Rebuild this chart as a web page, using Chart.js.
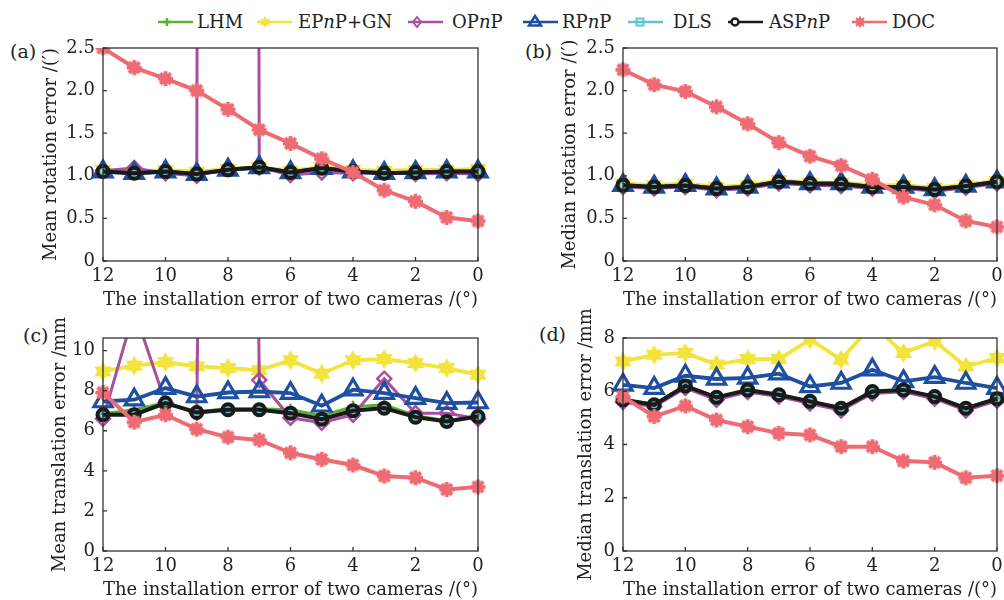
<!DOCTYPE html>
<html>
<head>
<meta charset="utf-8">
<script src="https://cdn.jsdelivr.net/npm/chart.js@4.4.1/dist/chart.umd.min.js"></script>
<style>
  body { margin: 0; width: 1004px; height: 600px; position: relative; overflow: hidden; background: #fff;
         font-family: "DejaVu Serif", "Liberation Serif", serif; color: #222; }
  canvas { position: absolute; }
  .lbl { position: absolute; font-size: 19px; line-height: 22px; }
  .legtxt { position: absolute; top: 10px; font-size: 18px; line-height: 24px; white-space: nowrap; }
  .legsym { position: absolute; top: 14px; }
</style>
</head>
<body>
<div id="legend"></div>
<div class="lbl" style="left:10px;top:40px">(a)</div>
<div class="lbl" style="left:525px;top:40px">(b)</div>
<div class="lbl" style="left:23px;top:324px">(c)</div>
<div class="lbl" style="left:539px;top:323px">(d)</div>
<canvas id="chartA"></canvas>
<canvas id="chartB"></canvas>
<canvas id="chartC"></canvas>
<canvas id="chartD"></canvas>
<script>
// x axis: installation error of two cameras (deg), plotted 12 -> 0
const xVals = [12, 11, 10, 9, 8, 7, 6, 5, 4, 3, 2, 1, 0];
const methods = ['LHM', 'EPnP', 'OPnP', 'RPnP', 'DLS', 'ASPnP', 'DOC'];

// (a) mean rotation error /(')
const lhmMeanRot   = [1.06, 1.04, 1.06, 1.03, 1.07, 1.09, 1.04, 1.08, 1.06, 1.04, 1.05, 1.06, 1.06];
const epnpMeanRot  = [1.07, 1.05, 1.07, 1.05, 1.08, 1.10, 1.06, 1.10, 1.07, 1.06, 1.07, 1.07, 1.08];
const opnpMeanRot  = [1.06, 1.09, 1.03, 1.00, 150, 1.10, 1.01, 1.04, 1.03, 1.04, 1.02, 1.03, 1.02];
const rpnpMeanRot  = [1.05, 1.03, 1.05, 1.02, 1.07, 1.10, 1.04, 1.09, 1.05, 1.03, 1.04, 1.05, 1.05];
const dlsMeanRot   = [1.05, 1.03, 1.05, 1.02, 1.07, 1.09, 1.04, 1.08, 1.05, 1.03, 1.04, 1.05, 1.05];
const aspnpMeanRot = [1.05, 1.03, 1.05, 1.02, 1.07, 1.10, 1.04, 1.09, 1.05, 1.03, 1.04, 1.05, 1.05];
const docMeanRot   = [2.50, 2.27, 2.14, 2.00, 1.78, 1.54, 1.38, 1.20, 1.04, 0.83, 0.70, 0.51, 0.47];

// (b) median rotation error /(')
const lhmMedRot   = [0.89, 0.87, 0.89, 0.85, 0.87, 0.93, 0.91, 0.90, 0.87, 0.87, 0.84, 0.88, 0.93];
const epnpMedRot  = [0.91, 0.89, 0.91, 0.87, 0.89, 0.95, 0.92, 0.92, 0.89, 0.89, 0.86, 0.90, 0.94];
const opnpMedRot  = [0.87, 0.85, 0.87, 0.83, 0.85, 0.91, 0.89, 0.88, 0.85, 0.85, 0.82, 0.86, 0.91];
const rpnpMedRot  = [0.89, 0.87, 0.89, 0.85, 0.87, 0.93, 0.91, 0.91, 0.87, 0.87, 0.84, 0.88, 0.93];
const dlsMedRot   = [0.89, 0.87, 0.88, 0.85, 0.87, 0.93, 0.91, 0.90, 0.87, 0.87, 0.84, 0.88, 0.93];
const aspnpMedRot = [0.89, 0.87, 0.885, 0.85, 0.87, 0.93, 0.91, 0.905, 0.87, 0.87, 0.84, 0.88, 0.93];
const docMedRot   = [2.245, 2.07, 1.99, 1.81, 1.61, 1.39, 1.23, 1.12, 0.96, 0.75, 0.66, 0.47, 0.40];

// (c) mean translation error /mm
const lhmMeanTr   = [6.85, 7.05, 7.40, 6.95, 7.10, 7.10, 7.05, 6.75, 7.20, 7.30, 6.75, 6.50, 6.75];
const epnpMeanTr  = [8.96, 9.25, 9.42, 9.22, 9.13, 9.02, 9.52, 8.85, 9.52, 9.58, 9.38, 9.13, 8.80];
const opnpMeanTr  = [6.60, 12.0, 7.40, 6.90, 150, 8.53, 6.65, 6.40, 6.80, 8.60, 6.88, 6.88, 6.60];
const rpnpMeanTr  = [7.46, 7.55, 8.13, 7.71, 7.91, 7.96, 7.88, 7.25, 8.05, 7.88, 7.63, 7.38, 7.41];
const dlsMeanTr   = [6.80, 6.82, 7.36, 6.92, 7.05, 7.05, 6.90, 6.60, 7.02, 7.12, 6.68, 6.47, 6.72];
const aspnpMeanTr = [6.80, 6.80, 7.38, 6.91, 7.05, 7.05, 6.88, 6.58, 7.00, 7.13, 6.68, 6.46, 6.71];
const docMeanTr   = [7.91, 6.43, 6.80, 6.08, 5.68, 5.54, 4.90, 4.57, 4.29, 3.74, 3.66, 3.07, 3.20];

// (d) median translation error /mm
const lhmMedTr   = [5.70, 5.50, 6.20, 5.78, 6.05, 5.88, 5.62, 5.38, 6.00, 6.06, 5.80, 5.38, 5.73];
const epnpMedTr  = [7.12, 7.37, 7.44, 7.00, 7.21, 7.21, 7.94, 7.19, 8.50, 7.44, 7.88, 6.93, 7.25];
const opnpMedTr  = [5.60, 5.42, 6.12, 5.68, 5.97, 5.80, 5.54, 5.28, 5.92, 5.98, 5.72, 5.28, 5.64];
const rpnpMedTr  = [6.24, 6.12, 6.58, 6.46, 6.50, 6.66, 6.18, 6.31, 6.81, 6.37, 6.53, 6.31, 6.12];
const dlsMedTr   = [5.68, 5.50, 6.22, 5.77, 6.05, 5.87, 5.62, 5.36, 5.99, 6.05, 5.80, 5.37, 5.72];
const aspnpMedTr = [5.68, 5.49, 6.20, 5.77, 6.05, 5.87, 5.62, 5.36, 5.99, 6.05, 5.80, 5.36, 5.72];
const docMedTr   = [5.80, 5.05, 5.45, 4.92, 4.67, 4.42, 4.36, 3.92, 3.92, 3.38, 3.33, 2.75, 2.83];

// custom markers
function hexagram(R, color) {
  const c = document.createElement('canvas');
  c.width = c.height = Math.ceil(R * 2 + 2);
  const g = c.getContext('2d'), m = c.width / 2;
  g.beginPath();
  for (let k = 0; k < 12; k++) {
    const a = -Math.PI / 2 + k * Math.PI / 6, r = k % 2 ? R * 0.58 : R;
    g.lineTo(m + r * Math.cos(a), m + r * Math.sin(a));
  }
  g.closePath();
  g.fillStyle = color;
  g.fill();
  return c;
}
function docMark(R, color) {
  const c = document.createElement('canvas');
  c.width = c.height = Math.ceil(R * 2 + 2);
  const g = c.getContext('2d'), m = c.width / 2;
  g.fillStyle = color; g.strokeStyle = color;
  g.beginPath(); g.arc(m, m, R * 0.74, 0, Math.PI * 2); g.fill();
  g.lineWidth = R * 0.5;
  g.beginPath();
  for (let k = 0; k < 4; k++) {
    const a = k * Math.PI / 4;
    g.moveTo(m - R * Math.cos(a), m - R * Math.sin(a));
    g.lineTo(m + R * Math.cos(a), m + R * Math.sin(a));
  }
  g.stroke();
  return c;
}

const styles = {
  LHM:   { color: '#5cb030', width: 3,   point: 'cross',    radius: 6,  pw: 2.5, order: 7 },
  EPnP:  { color: '#f2e43c', width: 3.8, point: hexagram(10, '#f2e43c'), radius: 10, pw: 0, order: 6 },
  OPnP:  { color: '#a94fa0', width: 3,   point: 'rectRot',  radius: 7,  pw: 2.5, order: 5 },
  RPnP:  { color: '#1f4f9f', width: 3.8, point: 'triangle', radius: 10.5, pw: 3.2, order: 4 },
  DLS:   { color: '#5cc6d2', width: 2.5, point: 'rect',     radius: 4,  pw: 2,   order: 3 },
  ASPnP: { color: '#1a1a1a', width: 4,   point: 'circle',   radius: 5.5, pw: 4,  order: 2 },
  DOC:   { color: '#ee6b73', width: 4,   point: docMark(7.5, '#ee6b73'), radius: 8, pw: 0, order: 1 }
};

const textColor = '#222';
const fontFamily = '"DejaVu Serif", "Liberation Serif", serif';
const boxPlugin = {
  id: 'box',
  afterDatasetsDraw(chart) {
    const { ctx, chartArea: a, scales } = chart;
    ctx.save();
    ctx.strokeStyle = '#333';
    ctx.lineWidth = 1.3;
    ctx.strokeRect(a.left, a.top, a.right - a.left, a.bottom - a.top);
    ctx.beginPath();
    scales.x.ticks.forEach(t => {
      const px = scales.x.getPixelForValue(t.value);
      ctx.moveTo(px, a.bottom); ctx.lineTo(px, a.bottom - 4);
    });
    scales.y.ticks.forEach(t => {
      const py = scales.y.getPixelForValue(t.value);
      ctx.moveTo(a.left, py); ctx.lineTo(a.left + 4, py);
    });
    ctx.stroke();
    ctx.restore();
  }
};

function makePanel(id, box, titleCx, yMax, yStep, yTitle, series, decimals) {
  const lh = 18, padTop = 40, padRight = 14, xAxisH = 48;
  const cv = document.getElementById(id);
  const left = titleCx - lh / 2;
  cv.style.left = left + 'px';
  cv.style.top = (box.top - padTop) + 'px';
  cv.width = Math.round(box.right + padRight - left);
  cv.height = Math.round(box.bottom + xAxisH - box.top + padTop);

  const datasets = methods.map((m, i) => {
    const s = styles[m];
    return {
      label: m,
      data: series[i].map((v, j) => ({ x: xVals[j], y: v })),
      borderColor: s.color,
      backgroundColor: 'rgba(0,0,0,0)',
      borderWidth: s.width,
      pointStyle: s.point,
      pointRadius: s.radius,
      pointBorderWidth: s.pw,
      pointBorderColor: s.color,
      pointBackgroundColor: 'rgba(0,0,0,0)',
      tension: 0,
      order: s.order,
      clip: { left: 12, right: 12, top: 0, bottom: 0 }
    };
  });

  const tickFont = { family: fontFamily, size: 18 };
  const titleFont = { family: fontFamily, size: 18, lineHeight: 1 };

  new Chart(cv, {
    type: 'line',
    data: { datasets },
    options: {
      responsive: false,
      animation: false,
      events: [],
      layout: { padding: { top: padTop, right: padRight, left: 0, bottom: 0 } },
      plugins: { legend: { display: false }, tooltip: { enabled: false } },
      scales: {
        x: {
          type: 'linear', reverse: true, min: 0, max: 12,
          ticks: { stepSize: 2, padding: 5, color: textColor, font: tickFont, maxRotation: 0 },
          grid: { display: false, drawTicks: false },
          border: { display: false },
          title: { display: true, text: 'The installation error of two cameras /(°)', color: textColor, font: titleFont, padding: 0 },
          afterFit: s => { s.height = xAxisH; }
        },
        y: {
          type: 'linear', min: 0, max: yMax,
          ticks: {
            stepSize: yStep, padding: 8, color: textColor, font: tickFont, includeBounds: false,
            callback: v => (v === 0 ? '0' : v.toFixed(decimals))
          },
          grid: { display: false, drawTicks: false },
          border: { display: false },
          title: { display: true, text: yTitle, color: textColor, font: titleFont, padding: 0 },
          afterFit: s => { s.width = box.left - left; }
        }
      }
    },
    plugins: [boxPlugin]
  });
}

makePanel('chartA', { left: 103, top: 48, right: 478, bottom: 261 }, 51, 2.5, 0.5, 'Mean rotation error /(′)',
  [lhmMeanRot, epnpMeanRot, opnpMeanRot, rpnpMeanRot, dlsMeanRot, aspnpMeanRot, docMeanRot], 1);
makePanel('chartB', { left: 623, top: 48, right: 997, bottom: 261 }, 570, 2.5, 0.5, 'Median rotation error /(′)',
  [lhmMedRot, epnpMedRot, opnpMedRot, rpnpMedRot, dlsMedRot, aspnpMedRot, docMedRot], 1);
makePanel('chartC', { left: 103, top: 338, right: 478, bottom: 551 }, 60, 10.63, 2, 'Mean translation error /mm',
  [lhmMeanTr, epnpMeanTr, opnpMeanTr, rpnpMeanTr, dlsMeanTr, aspnpMeanTr, docMeanTr], 0);
makePanel('chartD', { left: 623, top: 338, right: 997, bottom: 551 }, 586, 8, 2, 'Median translation error /mm',
  [lhmMedTr, epnpMedTr, opnpMedTr, rpnpMedTr, dlsMedTr, aspnpMedTr, docMedTr], 0);

// legend (html text, small svg symbols)
const legendItems = [
  { key: 'LHM',   html: 'LHM',              line: 158, text: 197, mark: 9 },
  { key: 'EPnP',  html: 'EP<i>n</i>P+GN',   line: 257, text: 298, mark: 8 },
  { key: 'OPnP',  html: 'OP<i>n</i>P',      line: 408, text: 452, mark: 9 },
  { key: 'RPnP',  html: 'RP<i>n</i>P',      line: 523, text: 562, mark: 12 },
  { key: 'DLS',   html: 'DLS',              line: 628, text: 673, mark: 12 },
  { key: 'ASPnP', html: 'ASP<i>n</i>P',     line: 728, text: 769, mark: 7 },
  { key: 'DOC',   html: 'DOC',              line: 852, text: 892, mark: 8 }
];
function symbolSvg(key, mx) {
  const c = styles[key].color, y = 8;
  let shape = '';
  if (key === 'LHM') shape = `<path d="M${mx-4} ${y}H${mx+4}M${mx} ${y-4}V${y+4}" stroke="${c}" stroke-width="2.5"/>`;
  if (key === 'EPnP') {
    let p = [];
    for (let k = 0; k < 12; k++) {
      const a = -Math.PI / 2 + k * Math.PI / 6, r = k % 2 ? 3.2 : 6;
      p.push((mx + r * Math.cos(a)).toFixed(2) + ',' + (y + r * Math.sin(a)).toFixed(2));
    }
    shape = `<polygon points="${p.join(' ')}" fill="${c}"/>`;
  }
  if (key === 'OPnP') shape = `<path d="M${mx} ${y-5}L${mx+4} ${y}L${mx} ${y+5}L${mx-4} ${y}Z" fill="none" stroke="${c}" stroke-width="2"/>`;
  if (key === 'RPnP') shape = `<path d="M${mx} ${y-6}L${mx+6} ${y+3.5}L${mx-6} ${y+3.5}Z" fill="none" stroke="${c}" stroke-width="2.5"/>`;
  if (key === 'DLS') shape = `<rect x="${mx-3.5}" y="${y-3.5}" width="7" height="7" fill="none" stroke="${c}" stroke-width="2"/>`;
  if (key === 'ASPnP') shape = `<circle cx="${mx}" cy="${y}" r="3.5" fill="#fff" stroke="${c}" stroke-width="2.5"/>`;
  if (key === 'DOC') shape = `<circle cx="${mx}" cy="${y}" r="4" fill="${c}"/><path d="M${mx-5.5} ${y}H${mx+5.5}M${mx} ${y-5.5}V${y+5.5}M${mx-4} ${y-4}L${mx+4} ${y+4}M${mx-4} ${y+4}L${mx+4} ${y-4}" stroke="${c}" stroke-width="2"/>`;
  return `<svg width="36" height="16" viewBox="0 0 36 16"><line x1="0" y1="${y}" x2="35" y2="${y}" stroke="${c}" stroke-width="2.5"/>${shape}</svg>`;
}
const leg = document.getElementById('legend');
legendItems.forEach(it => {
  const s = document.createElement('div');
  s.className = 'legsym';
  s.style.left = it.line + 'px';
  s.innerHTML = symbolSvg(it.key, it.mark);
  leg.appendChild(s);
  const t = document.createElement('div');
  t.className = 'legtxt';
  t.style.left = it.text + 'px';
  t.innerHTML = it.html;
  leg.appendChild(t);
});
</script>
</body>
</html>
